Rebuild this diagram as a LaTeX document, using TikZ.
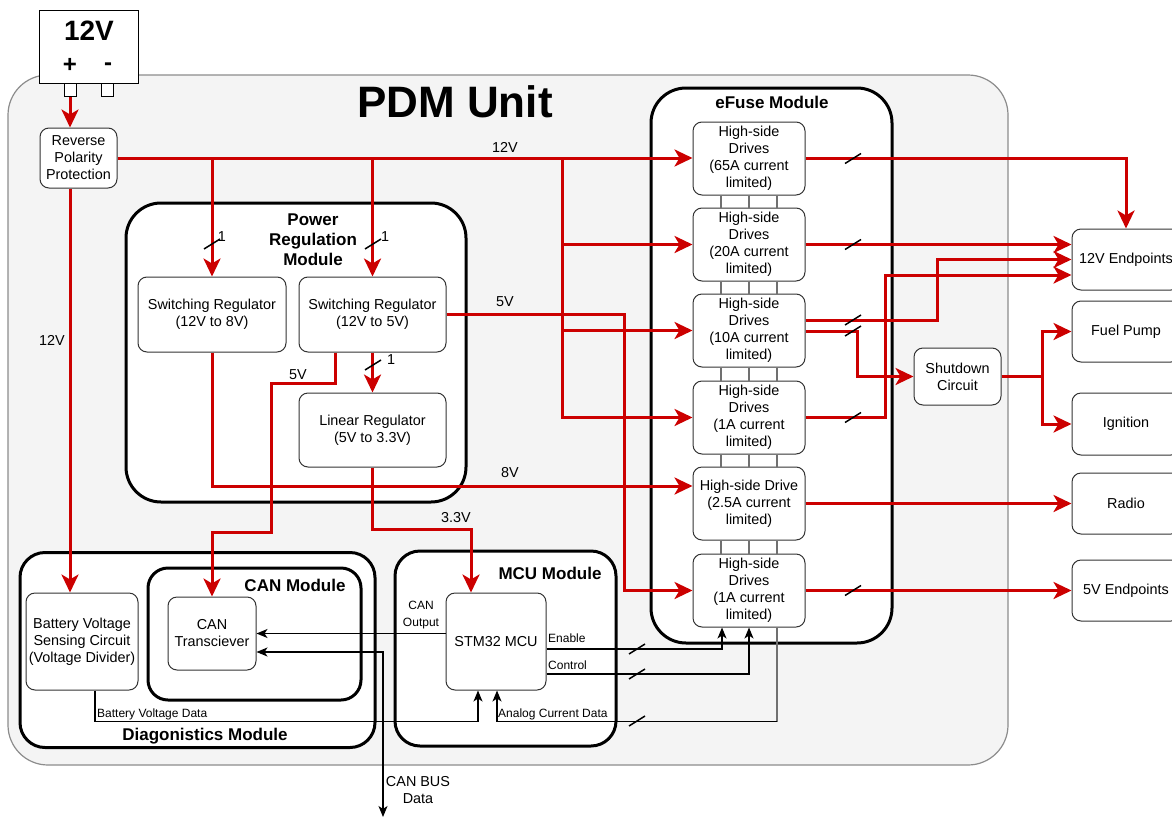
\documentclass[tikz,border=0pt]{standalone}
\usepackage{fontspec}
\setmainfont{Liberation Sans}
\usetikzlibrary{arrows.meta,calc}
\definecolor{pdmred}{HTML}{CC0000}
\definecolor{pdmbg}{HTML}{F4F4F4}
\definecolor{pdmborder}{HTML}{8C8C8C}
\definecolor{boxline}{HTML}{333333}
\definecolor{busgray}{HTML}{707070}
\newcommand{\fsnorm}{\fontsize{14.4}{17}\selectfont}
\newcommand{\fssmall}{\fontsize{12}{17}\selectfont}
\newcommand{\fstitle}{\fontsize{17}{20}\selectfont\bfseries}
\newcommand{\pdmslash}[1]{\draw[black,line width=1.5pt] ($(#1)+(-8,5)$) -- ($(#1)+(8,-5)$);}
\begin{document}
\begin{tikzpicture}[x=1pt,y=-1pt,
 box/.style={draw=boxline,line width=1pt,fill=white,rounded corners=9pt,align=center,inner sep=0pt,font=\fsnorm},
 module/.style={draw=black,line width=3pt,fill=white,inner sep=0pt},
 pwr/.style={draw=pdmred,line width=3pt,-{Stealth[length=18pt,width=17pt,inset=5pt]}},
 sig/.style={draw=black,line width=1.2pt,-{Stealth[length=11pt,width=9pt,inset=3pt]}},
 sigboth/.style={draw=black,line width=1.2pt,{Stealth[length=11pt,width=9pt,inset=3pt]}-{Stealth[length=11pt,width=9pt,inset=3pt]}},
 bus/.style={draw=busgray,line width=1.5pt},
 lbl/.style={font=\fsnorm,inner sep=0pt,align=center},
 slbl/.style={font=\fssmall,inner sep=0pt,align=center},
 ttl/.style={font=\fstitle,inner sep=0pt,align=center},
]
\useasboundingbox (0,0) rectangle (1172,819);
\clip (0,0) rectangle (1172,819);
\fill[white] (0,0) rectangle (1172,819);

% PDM unit background
\draw[fill=pdmbg,draw=pdmborder,line width=1.2pt,rounded corners=40pt] (8,75) rectangle (1008,765);
\node[inner sep=0pt,font=\fontsize{44}{50}\selectfont\bfseries] (pdmtitle) at (455,102) {PDM Unit};

% Battery
\node[draw=black,line width=1pt,fill=white,minimum width=99pt,minimum height=73pt,inner sep=0pt] (bat) at (88.5,46.5) {};
\node[inner sep=0pt,font=\fontsize{28}{30}\selectfont\bfseries] (batv) at (89,31) {12V};
\node[inner sep=0pt,font=\fontsize{24}{26}\selectfont\bfseries] (batp) at (70,65) {+};
\node[inner sep=0pt,font=\fontsize{24}{26}\selectfont\bfseries] (batm) at (108,67) {-};
\node[draw=black,line width=1pt,fill=white,minimum width=12pt,minimum height=13pt,inner sep=0pt] (tpos) at (70,90) {};
\node[draw=black,line width=1pt,fill=white,minimum width=12pt,minimum height=13pt,inner sep=0pt] (tneg) at (107,90) {};

% Modules
\node[module,rounded corners=35pt,minimum width=340pt,minimum height=299pt] (prm) at (296,352.5) {};
\node[module,rounded corners=35pt,minimum width=241pt,minimum height=555pt] (efm) at (771.5,365.5) {};
\node[module,rounded corners=25pt,minimum width=355pt,minimum height=195pt] (diag) at (197.5,650) {};
\node[module,rounded corners=20pt,minimum width=213pt,minimum height=132pt] (canm) at (254.5,634) {};
\node[module,rounded corners=25pt,minimum width=221pt,minimum height=195pt] (mcum) at (505.5,648.5) {};

\node[ttl] (prmt) at (313,240) {Power\\Regulation\\Module};
\node[ttl] (efmt) at (772,102) {eFuse Module};
\node[ttl] (diagt) at (205,736) {Diagonistics Module};
\node[ttl] (canmt) at (295,585) {CAN Module};
\node[ttl] (mcumt) at (550,573) {MCU Module};

% Boxes
\node[box,minimum width=77pt,minimum height=60pt] (rpp) at (78.5,158) {Reverse\\Polarity\\Protection};
\node[box,minimum width=148pt,minimum height=75pt] (sr8) at (212,314.5) {Switching Regulator\\(12V to 8V)};
\node[box,minimum width=147pt,minimum height=75pt] (sr5) at (372.5,314.5) {Switching Regulator\\(12V to 5V)};
\node[box,minimum width=147pt,minimum height=74pt] (lr) at (372.5,430) {Linear Regulator\\(5V to 3.3V)};

\node[box,minimum width=112pt,minimum height=73pt] (hs65) at (749,158.5) {High-side\\Drives\\(65A current\\limited)};
\node[box,minimum width=112pt,minimum height=73pt] (hs20) at (749,244.5) {High-side\\Drives\\(20A current\\limited)};
\node[box,minimum width=112pt,minimum height=73pt] (hs10) at (749,330.5) {High-side\\Drives\\(10A current\\limited)};
\node[box,minimum width=112pt,minimum height=73pt] (hs1a) at (749,417.5) {High-side\\Drives\\(1A current\\limited)};
\node[box,minimum width=112pt,minimum height=73pt] (hs25) at (749,503.5) {High-side Drive\\(2.5A current\\limited)};
\node[box,minimum width=112pt,minimum height=73pt] (hs1b) at (749,590.5) {High-side\\Drives\\(1A current\\limited)};

\node[box,minimum width=87pt,minimum height=57pt] (sd) at (957.5,376.5) {Shutdown\\Circuit};

\node[box,minimum width=108pt,minimum height=61pt] (e12) at (1126,259.5) {12V Endpoints};
\node[box,minimum width=108pt,minimum height=61pt] (fp) at (1126,331.5) {Fuel Pump};
\node[box,minimum width=108pt,minimum height=62pt] (ign) at (1126,424) {Ignition};
\node[box,minimum width=108pt,minimum height=61pt] (radio) at (1126,503.5) {Radio};
\node[box,minimum width=108pt,minimum height=61pt] (e5) at (1126,590.5) {5V Endpoints};

\node[box,minimum width=112pt,minimum height=97pt] (bvs) at (82,641.5) {Battery Voltage\\Sensing Circuit\\(Voltage Divider)};
\node[box,minimum width=88pt,minimum height=73pt] (cant) at (212,633.5) {CAN\\Transciever};
\node[box,minimum width=100pt,minimum height=97pt] (stm) at (496,641.5) {STM32 MCU};

% gray links between drives
\foreach \a/\b in {hs65/hs20,hs20/hs10,hs10/hs1a,hs1a/hs25,hs25/hs1b}
  \foreach \dx in {-28,0,28}
    \draw[bus] ([xshift=\dx pt]\a.south) -- ([xshift=\dx pt]\b.north);

% Red power connectors
\draw[pwr] (tpos.south) -- (tpos.south |- rpp.north);
\draw[pwr] (rpp.east) -- (rpp.east -| hs65.west);
\draw[pwr] (rpp.east -| sr8.north) -- (sr8.north);
\draw[pwr] (rpp.east -| sr5.north) -- (sr5.north);
\coordinate (busx) at (562,158);
\draw[pwr] (busx) |- (hs20.west);
\draw[pwr] (busx) |- (hs10.west);
\draw[pwr] (busx) |- (hs1a.west);
\draw[pwr] (rpp.south -| tpos.south) -- (tpos.south |- bvs.north);
\draw[pwr] (sr5.east) -| ($(hs1b.west)+(-68,0)$) -- (hs1b.west);
\draw[pwr] ([xshift=-37.5pt]sr5.south) -- ++(0,31) -| (271,532) -| (cant.north);
\draw[pwr] (sr8.south) |- ([yshift=17.5pt]hs25.west);
\draw[pwr] (lr.south) -- ++(0,62) -| ([xshift=-25pt]stm.north);
\draw[pwr] (sr5.south) -- (lr.north);

\draw[pwr] (hs65.east) -| (e12.north);
\draw[pwr] (hs20.east) -- (hs20.east -| e12.west);
\draw[pwr] ([yshift=10.5pt]hs10.east) -| ($(e12.west)+(-134,0)$) -- (e12.west);
\draw[pwr] ([yshift=-0.5pt]hs10.east) -| ($(sd.west)+(-56,0)$) -- (sd.west);
\draw[pwr] (hs1a.east) -| ($(e12.west)+(-186,15.5)$) -- ($(e12.west)+(0,15.5)$);
\draw[pwr] (sd.east) -| ($(fp.west)+(-29,0)$) -- (fp.west);
\draw[pwr] (sd.east) -| ($(ign.west)+(-29,0)$) -- (ign.west);
\draw[pwr] (hs25.east) -- (radio.west);
\draw[pwr] (hs1b.east) -- (e5.west);

% Black signal connectors
\draw[sig] (stm.west |- cant.east) -- (cant.east);
\coordinate (canbus) at (383,817);
\draw[sigboth] ([yshift=-18.5pt]cant.east) -| (canbus);
\draw[sig] ([yshift=-7.5pt]stm.east) -| ([xshift=-27pt]hs1b.south);
\draw[sig] ([yshift=-32.5pt]stm.east) -| (hs1b.south);
\coordinate (acd) at ($(hs1b.south)+(28,94)$);
\draw[bus] ([xshift=28pt]hs1b.south) -- (acd);
\draw[sig] (acd) -| ([xshift=1pt]stm.south);
\draw[sig] ([xshift=13pt]bvs.south) -- ++(0,31) -| ([xshift=-18pt]stm.south);

% Slash marks
\pdmslash{212,244}
\pdmslash{373,244}
\pdmslash{373,365}
\pdmslash{853,158.5}
\pdmslash{853,244.5}
\pdmslash{853,320}
\pdmslash{853,331}
\pdmslash{853,417.5}
\pdmslash{853,590.5}
\pdmslash{637,649}
\pdmslash{637,674}
\pdmslash{637,721}

% Labels
\node[lbl] (one1) at (222,237) {1};
\node[lbl] (one2) at (385,237) {1};
\node[lbl] (one3) at (391,360) {1};
\node[lbl] (l12a) at (505,147) {12V};
\node[lbl] (l12b) at (52,340) {12V};
\node[lbl] (l5a) at (505,302) {5V};
\node[lbl] (l5b) at (298,375) {5V};
\node[lbl] (l8) at (510,473) {8V};
\node[lbl] (l33) at (456,518) {3.3V};
\node[slbl] (lcano) at (421,615) {CAN\\Output};
\node[slbl,anchor=base west] (len) at (548,642) {Enable};
\node[slbl,anchor=base west] (lctl) at (548,669) {Control};
\node[slbl,anchor=base west] (lacd) at (498,717) {Analog Current Data};
\node[slbl,anchor=base west] (lbvd) at (97,717) {Battery Voltage Data};
\node[lbl] (lcanbus) at (418,790) {CAN BUS\\Data};
\end{tikzpicture}
\end{document}
